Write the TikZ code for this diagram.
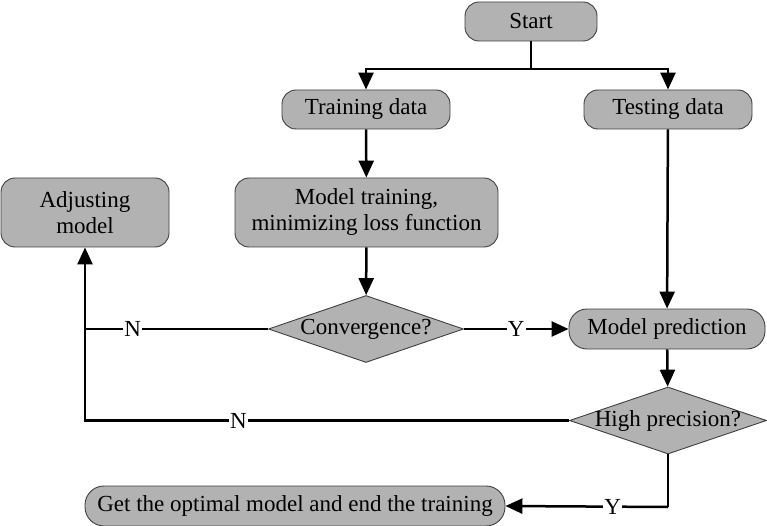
\documentclass[tikz,border=0pt]{standalone}
\usepackage{fontspec}
\setmainfont{Liberation Serif}
\newfontfamily\tnr{Liberation Serif}
\usetikzlibrary{shapes.geometric,arrows.meta}
\begin{document}
\begin{tikzpicture}[x=1pt,y=-1pt,
  box/.style={draw=black!75,line width=0.9pt,fill=black!30,rounded corners=14pt,align=center,inner sep=0pt},
  dia/.style={draw=black!75,line width=0.9pt,fill=black!30,shape=diamond,inner sep=0pt},
  arr/.style={line width=2.5pt,-{Triangle[length=17pt,width=15pt]}},
  ln/.style={line width=2.5pt},
  lab/.style={fill=white,inner sep=1pt},
  every node/.style={font=\tnr\fontsize{23}{26}\selectfont}]
\useasboundingbox (0,0) rectangle (767,526);
\node[box,minimum width=132pt,minimum height=39pt] (start) at (531,21.5) {Start};
\node[box,minimum width=168pt,minimum height=39pt] (train) at (366,109.5) {Training data};
\node[box,minimum width=168pt,minimum height=39pt] (test) at (668,109.5) {Testing data};
\node[box,minimum width=168pt,minimum height=69pt] (adjust) at (85,212.5) {Adjusting\\model};
\node[box,minimum width=263pt,minimum height=69pt] (mtrain) at (366.5,212.5) {Model training,\\minimizing loss function};
\node[dia,minimum width=195pt,minimum height=67pt,label={center:Convergence?}] (conv) at (366,329) {};
\node[box,minimum width=196pt,minimum height=40pt,rounded corners=18pt] (pred) at (667,329) {Model prediction};
\node[dia,minimum width=197pt,minimum height=67pt,label={center:High precision?}] (prec) at (668,420.5) {};
\node[box,minimum width=420pt,minimum height=40pt,rounded corners=19pt] (get) at (295,506) {Get the optimal model and end the training};
\coordinate (j) at (531,69);
\coordinate (c1) at (85,329);
\coordinate (c2) at (85,420.5);
\coordinate (c3) at (668,507);
\draw[ln] (start.south) -- (j);
\draw[arr] (j) -| (train.north);
\draw[arr] (j) -| (test.north);
\draw[arr] (train) -- (mtrain);
\draw[arr] (mtrain) -- (conv);
\draw[arr] (test) -- (pred);
\draw[arr] (pred) -- (prec);
\draw[arr] (conv.east) -- node[lab,pos=0.5] (y1) {Y} (pred.west);
\draw[ln] (conv.west) -- node[lab,pos=0.74] (n1) {N} (c1);
\draw[arr] (prec.west) -- node[lab,pos=0.683] (n2) {N} (c2) -- (adjust.south);
\draw[ln] (prec.south) -- (c3);
\draw[arr] (c3) -- node[lab,pos=0.34] (y2) {Y} (get.east);
\end{tikzpicture}
\end{document}
